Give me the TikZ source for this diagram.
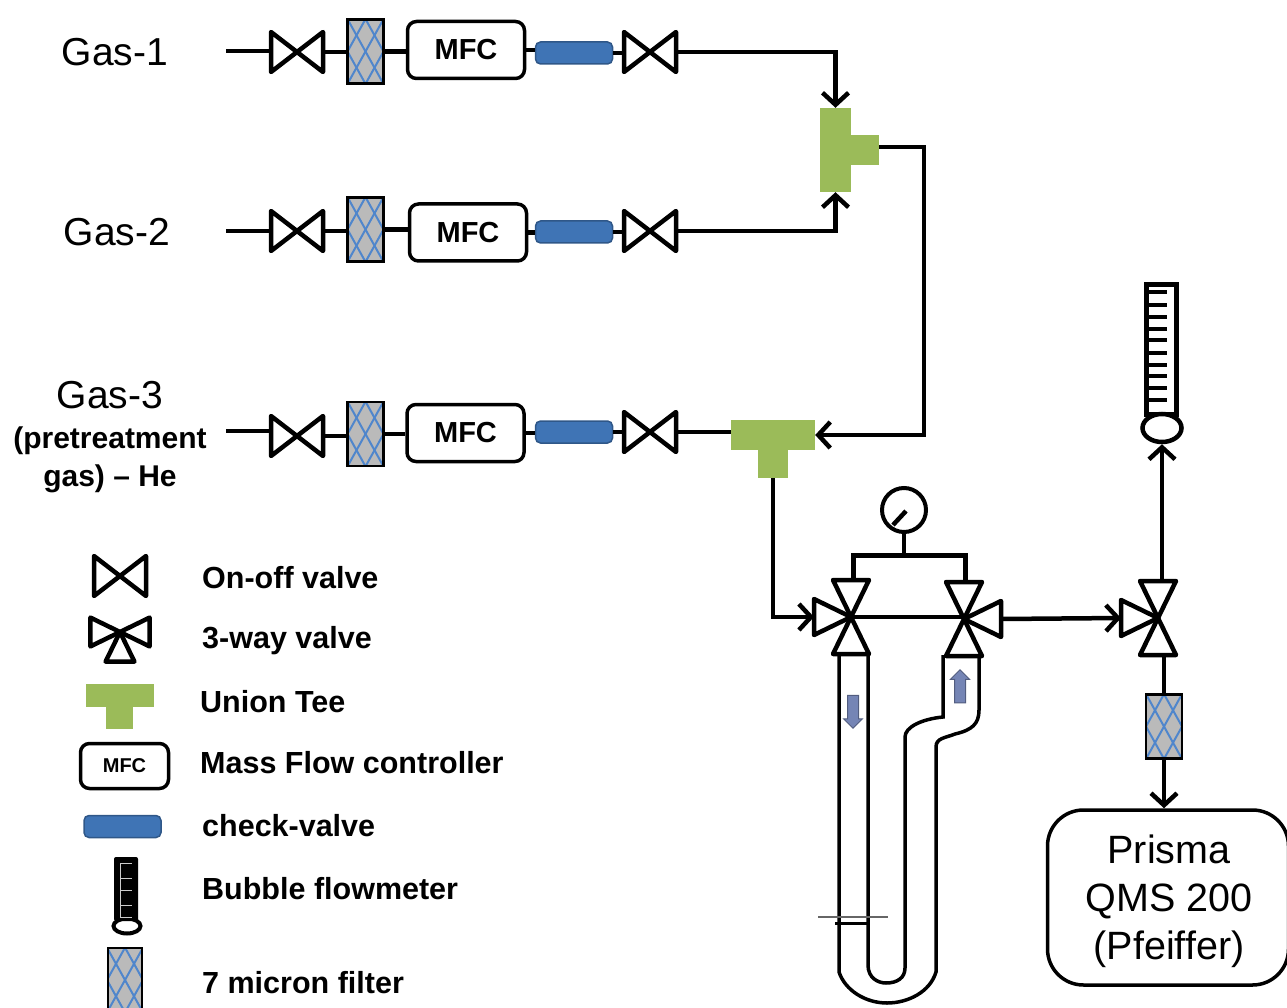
\documentclass[tikz,border=0pt]{standalone}
\usepackage{fontspec}
\setmainfont{Liberation Sans}
\usetikzlibrary{
  arrows.meta, shapes.arrows, shapes.geometric, positioning
}
\definecolor{teegreen}{HTML}{9BBB59}
\definecolor{checkblue}{HTML}{3F74B5}
\definecolor{meshblue}{HTML}{4F86CC}
\definecolor{flowblue}{HTML}{7585B5}
\tikzset{
  pipe/.style={line width=4.5pt,draw=black},
  arr/.style={pipe,-{Straight Barb[length=12pt,width=26pt,line width=4.5pt]}},
  valve/.style={line width=4.5pt,draw=black,fill=white,line join=round},
  mfcnode/.style={rectangle,rounded corners=9pt,draw=black,fill=white,line width=3.5pt,
    minimum width=117pt,minimum height=57pt,inner sep=0pt,font=\fontsize{29}{29}\selectfont\bfseries},
  cvnode/.style={rectangle,rounded corners=5pt,fill=checkblue,draw=checkblue!75!black,line width=1.5pt,
    minimum width=77pt,minimum height=22pt,inner sep=0pt},
  teebar/.style={rectangle,fill=teegreen,inner sep=0pt},
  filternode/.style={rectangle,draw=black,fill=black!27,line width=2.5pt,
    minimum width=36pt,minimum height=64pt,inner sep=0pt,
    path picture={
      \foreach \d in {-54,-36,...,54} {
        \draw[meshblue,line width=2pt] ([xshift=\d pt-20pt,yshift=36pt]path picture bounding box.center)
          -- ([xshift=\d pt+20pt,yshift=-36pt]path picture bounding box.center);
        \draw[meshblue,line width=2pt] ([xshift=\d pt+20pt,yshift=36pt]path picture bounding box.center)
          -- ([xshift=\d pt-20pt,yshift=-36pt]path picture bounding box.center);
      }
    }},
  gaslbl/.style={inner sep=0pt,font=\fontsize{39}{39}\selectfont},
  subslbl/.style={inner sep=0pt,font=\fontsize{30}{30}\selectfont\bfseries},
  keylbl/.style={inner sep=0pt,anchor=west,font=\fontsize{30.5}{30.5}\selectfont\bfseries},
  flowarrow/.style={single arrow,draw=flowblue!70!black,fill=flowblue,line width=1pt,inner sep=5pt,
    minimum height=33pt,single arrow head extend=4pt},
  pics/onoff/.style={code={
    \draw[valve] (-26,-20) -- (26,20) -- (26,-20) -- (-26,20) -- cycle;
    \coordinate (-w) at (-26,0);
    \coordinate (-e) at (26,0);
  }},
  pics/threeway/.style={code={
    \foreach \a in {#1} {
      \draw[valve,rotate=\a] (0,0) -- (37,-18) -- (37,18) -- cycle;
    }
    \coordinate (-w) at (-37,0);
    \coordinate (-e) at (37,0);
    \coordinate (-n) at (0,-37);
    \coordinate (-s) at (0,37);
  }}
}

\begin{document}
\begin{tikzpicture}[x=1pt,y=-1pt]
\useasboundingbox (0,0) rectangle (1287,1008);

% Gas lines
\node[gaslbl] (gas1) at (115,52) {Gas-1};
\node[gaslbl] (gas2) at (117,232) {Gas-2};
\node[gaslbl] (gas3) at (110,395) {Gas-3};
\node[subslbl] (gas3a) at (110,441) {(pretreatment};
\node[subslbl] (gas3b) at (110,479) {gas) -- He};
\coordinate (in1) at (226,51);
\coordinate (in2) at (226,231);
\coordinate (in3) at (226,431);

\pic (vaa) at (297,52) {onoff};
\node[filternode] (fa) at (365.5,51.5) {};
\node[mfcnode] (mfca) at (466,50) {MFC};
\node[cvnode] (cva) at (574,53) {};
\pic (vab) at (650,52) {onoff};

\pic (vba) at (297,231) {onoff};
\node[filternode] (fb) at (365.5,229.5) {};
\node[mfcnode] (mfcb) at (468,232.5) {MFC};
\node[cvnode] (cvb) at (574,232) {};
\pic (vbb) at (650,231) {onoff};

\pic (vca) at (297,436) {onoff};
\node[filternode] (fc) at (365.5,434) {};
\node[mfcnode] (mfcc) at (465.5,433) {MFC};
\node[cvnode] (cvc) at (574,432) {};
\pic (vcb) at (650,432) {onoff};

% Union tees
\node[teebar,minimum width=31pt,minimum height=84pt] (teea) at (835.5,150) {};
\node[teebar,minimum width=30pt,minimum height=30pt] (teeb) at (864,150) {};
\node[teebar,minimum width=84pt,minimum height=30pt] (teec) at (773,435) {};
\node[teebar,minimum width=30pt,minimum height=30pt] (teed) at (773,463) {};

% Switching valves
\pic (sa) at (851,617) {threeway={90,180,270}};
\pic (sb) at (964,619) {threeway={90,0,270}};
\pic (sc) at (1158,618) {threeway={90,180,270}};
\coordinate (barl) at (853,555);
\coordinate (barr) at (965,555);
\coordinate (turn) at (924,147);
\node[circle,draw=black,line width=4pt,fill=white,minimum size=44pt,inner sep=0pt] (gauge) at (904,510) {};
\coordinate (needlea) at (893,525);
\coordinate (needleb) at (906,511);

% Bubble flowmeter
\node[rectangle,draw=black,line width=5pt,fill=white,minimum width=30pt,minimum height=130pt,inner sep=0pt] (bub) at (1161.5,349) {};
\foreach \y in {292,305,317,329,340,353,365,376,388,400} {
  \draw[line width=4pt] (1147,\y) -- (1167,\y);
}
\node[ellipse,draw=black,line width=4.5pt,fill=white,minimum width=39pt,minimum height=28pt,inner sep=0pt] (bulb) at (1162,428) {};

\node[filternode] (fd) at (1164,726.5) {};
\node[rectangle,rounded corners=36pt,draw=black,line width=3.5pt,fill=white,minimum width=241pt,minimum height=175pt,inner sep=0pt] (qms) at (1168,897.5) {};
\node[inner sep=0pt,align=center,font=\fontsize{39.5}{48}\selectfont] (qmstxt) at (1169,901) {Prisma\\QMS 200\\(Pfeiffer)};

% Pipes
\draw[pipe] (in1) -- (in1 -| vaa-w);
\draw[pipe] (vaa-e) -- (vaa-e -| fa.west);
\draw[pipe] (fa.east) -- (fa.east -| mfca.west);
\draw[pipe] (mfca.east) -- (mfca.east -| cva.west);
\draw[pipe] (cva.east) -- (cva.east -| vab-w);
\draw[arr] (vab-e) -| (teea.north);
\draw[pipe] (in2) -- (in2 -| vba-w);
\draw[pipe] (vba-e) -- (vba-e -| fb.west);
\draw[pipe] (fb.east) -- (fb.east -| mfcb.west);
\draw[pipe] (mfcb.east) -- (mfcb.east -| cvb.west);
\draw[pipe] (cvb.east) -- (cvb.east -| vbb-w);
\draw[arr] (vbb-e) -| (teea.south);
\draw[pipe] (in3) -- (in3 -| vca-w);
\draw[pipe] (vca-e) -- (vca-e -| fc.west);
\draw[pipe] (fc.east) -- (fc.east -| mfcc.west);
\draw[pipe] (mfcc.east) -- (mfcc.east -| cvc.west);
\draw[pipe] (cvc.east) -- (cvc.east -| vcb-w);
\draw[pipe] (vcb-e) -- (vcb-e -| teec.west);
\draw[arr] (turn -| teeb.east) -- (turn) |- (teec.east);
\draw[arr] (teed.south) |- (sa-w);
\draw[pipe,line width=3.5pt] (sa-w -| sa-n) -- (sa-w -| sb-n);
\draw[pipe,line width=5pt] (barl |- sa-n) -- (barl) -- (barr) -- (barr |- sb-n);
\draw[pipe] (gauge.south) -- (gauge.south |- barl);
\draw[pipe] (needlea) -- (needleb);
\draw[arr] (sb-e) -- (sc-w);
\draw[arr] (sc-n -| bulb.south) -- (bulb.south);
\draw[pipe] (fd.north |- sc-s) -- (fd.north);
\draw[arr] (fd.south) -- (fd.south |- qms.north);

% U tube
\draw[line width=3.5pt] (839,653) -- (839,972) .. controls (845,990) and (865,1003) .. (887,1003) .. controls (908,1003) and (930,992) .. (936,972) -- (936,747)
  .. controls (936,738) and (945,738) .. (955,734) .. controls (972,730) and (979,724) .. (979,710) -- (979,655);
\draw[line width=3.5pt] (868,653) -- (868,965) .. controls (868,978) and (878,983) .. (886,983) .. controls (897,983) and (905,978) .. (905,968) -- (905,737)
  .. controls (905,727) and (922,719) .. (943,717) -- (943,655);
\draw[line width=1.2pt,black!60] (818,917) -- (888,917);
\draw[line width=3pt] (835,923) -- (868,923);
\node[flowarrow,rotate=-90] (dna) at (853,709) {};
\node[flowarrow,rotate=90] (upa) at (960,689) {};

% Legend
\pic (keya) at (120,576) {onoff};
\pic[scale=0.8] (keyb) at (120,632) {threeway={0,180,270}};
\node[teebar,minimum width=68pt,minimum height=23pt] (keyc) at (120,695.5) {};
\node[teebar,minimum width=27pt,minimum height=23pt] (keyd) at (119.5,717) {};
\node[mfcnode,minimum width=88pt,minimum height=45pt,font=\fontsize{20}{20}\selectfont\bfseries] (keye) at (124.5,766) {MFC};
\node[cvnode] (keyf) at (122.5,826.5) {};
\node[ellipse,draw=black,line width=4pt,fill=white,minimum width=27pt,minimum height=15pt,inner sep=0pt] (keyg) at (127,926) {};
\node[rectangle,rounded corners=2pt,fill=black,minimum width=24pt,minimum height=64pt,inner sep=0pt] (keyh) at (126,889) {};
\draw[line width=1pt,black!20] (120,863) -- (132,863) (120,863) -- (120,917) -- (132,917) (120,878) -- (132,878) (120,890) -- (132,890) (120,905) -- (132,905);
\node[filternode,minimum width=34pt] (keyi) at (125,980) {};

\node[keylbl] (lba) at (202,578) {On-off valve};
\node[keylbl] (lbb) at (202,641) {3-way valve};
\node[keylbl] (lbc) at (200,702) {Union Tee};
\node[keylbl] (lbd) at (200,763) {Mass Flow controller};
\node[keylbl] (lbe) at (202,826) {check-valve};
\node[keylbl] (lbf) at (202,889) {Bubble flowmeter};
\node[keylbl] (lbg) at (202,983) {7 micron filter};

\end{tikzpicture}
\end{document}
